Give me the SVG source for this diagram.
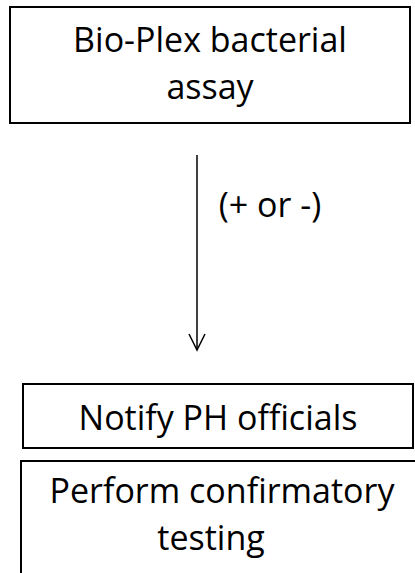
<svg xmlns="http://www.w3.org/2000/svg" width="415" height="573" viewBox="0 0 415 573">
<style>
.box{fill:#fff;stroke:#000;stroke-width:2}
.t{font-family:"Open Sans","Noto Sans",sans-serif;font-size:34px;fill:#000;text-anchor:middle}
.c{stroke:#000;stroke-width:1.5;fill:none}
</style>
<rect width="415" height="573" fill="#fff"/>
<g id="assay">
<rect class="box" x="10" y="7" width="400" height="116"/>
<text class="t" x="210" y="52">Bio-Plex bacterial</text>
<text class="t" x="210" y="99">assay</text>
</g>
<g id="connectors">
<line class="c" x1="197" y1="155" x2="197" y2="350"/>
<polyline class="c" points="189,334 197,350 205,334"/>
<text class="t" x="270" y="217">(+ or -)</text>
</g>
<g id="notify">
<rect class="box" x="23" y="384" width="390" height="64"/>
<text class="t" x="218" y="430">Notify PH officials</text>
</g>
<g id="confirm">
<rect class="box" x="21" y="461" width="396" height="120"/>
<text class="t" x="222" y="503">Perform confirmatory</text>
<text class="t" x="211" y="550">testing</text>
</g>
</svg>
